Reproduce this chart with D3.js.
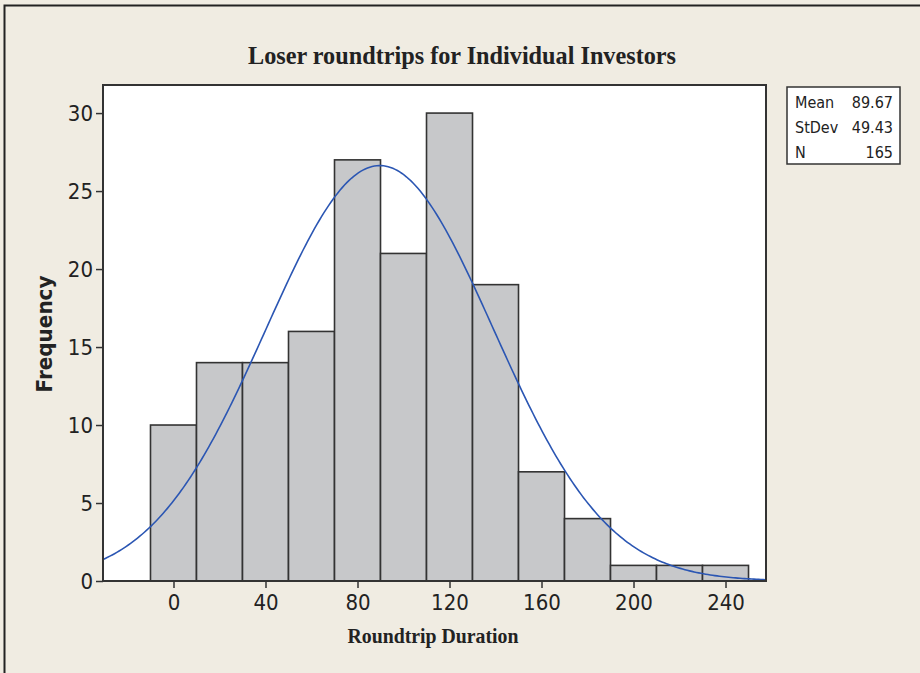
<!DOCTYPE html>
<html><head><meta charset="utf-8">
<script src="https://cdn.jsdelivr.net/npm/d3@7"></script>
<style>body{margin:0;background:#f0ece2;} svg{display:block;}</style>
</head><body>
<script>
const binCenters = [0,20,40,60,80,100,120,140,160,180,200,220,240];
const frequencies = [10,14,14,16,27,21,30,19,7,4,1,1,1];
const binWidth = 20;
const xTicks = [0,40,80,120,160,200,240];
const yTicks = [0,5,10,15,20,25,30];
const statLabels = ["Mean","StDev","N"];
const statValues = ["89.67","49.43","165"];
const mean = 89.67, sd = 49.43, n = 165;

const W = 920, H = 673;
const svg = d3.select("body").append("svg").attr("width", W).attr("height", H);
svg.append("rect").attr("width", W).attr("height", H).attr("fill", "#f0ece2");
svg.append("path").attr("d", "M4.5,673 L4.5,5.5 L920,5.5").attr("fill","none").attr("stroke","#222").attr("stroke-width",2);

const L = 103, R = 766, T = 85, B = 581;
const x = d3.scaleLinear().domain([-30.65, 257.6]).range([L, R]);
const y = d3.scaleLinear().domain([0, 31.8]).range([B, T]);

svg.append("rect").attr("x", L).attr("y", T).attr("width", R-L).attr("height", B-T).attr("fill", "#fff");

svg.append("g").selectAll("rect").data(binCenters).join("rect")
  .attr("x", (d) => x(d - binWidth/2))
  .attr("width", (d) => x(d + binWidth/2) - x(d - binWidth/2))
  .attr("y", (d,i) => y(frequencies[i]))
  .attr("height", (d,i) => y(0) - y(frequencies[i]))
  .attr("fill", "#c7c8ca").attr("stroke", "#333").attr("stroke-width", 1.6);

const curvePts = d3.range(x.domain()[0], x.domain()[1] + 0.01, 1).map(v => [v, n*binWidth/(sd*Math.sqrt(2*Math.PI))*Math.exp(-0.5*((v-mean)/sd)**2)]);
svg.append("path").datum(curvePts)
  .attr("d", d3.line().x(d => x(d[0])).y(d => y(d[1])))
  .attr("fill","none").attr("stroke","#2b56b3").attr("stroke-width",1.6);

svg.append("rect").attr("x", L).attr("y", T).attr("width", R-L).attr("height", B-T)
  .attr("fill", "none").attr("stroke", "#333").attr("stroke-width", 2);

const tickFont = "'DejaVu Sans Condensed','Liberation Sans Narrow',sans-serif";
const xa = svg.append("g").attr("transform", `translate(0,${B})`)
  .call(d3.axisBottom(x).tickValues(xTicks).tickSize(7).tickPadding(6).tickFormat(d3.format("d")));
xa.select(".domain").remove();
xa.selectAll("line").attr("stroke","#333").attr("stroke-width",1.5);
xa.selectAll("text").attr("font-family", tickFont).attr("font-size", 22).attr("fill","#222");

const ya = svg.append("g").attr("transform", `translate(${L},0)`)
  .call(d3.axisLeft(y).tickValues(yTicks).tickSize(7).tickPadding(3).tickFormat(d3.format("d")));
ya.select(".domain").remove();
ya.selectAll("line").attr("stroke","#333").attr("stroke-width",1.5);
ya.selectAll("text").attr("font-family", tickFont).attr("font-size", 22).attr("fill","#222");

svg.append("text").attr("x", 462).attr("y", 64).attr("text-anchor","middle")
  .attr("font-family","'Liberation Serif','Times New Roman',serif").attr("font-weight","bold")
  .attr("font-size", 26).attr("fill","#222")
  .attr("textLength", 428).attr("lengthAdjust","spacingAndGlyphs")
  .text("Loser roundtrips for Individual Investors");

svg.append("text").attr("x", 433).attr("y", 643).attr("text-anchor","middle")
  .attr("font-family","'Liberation Serif','Times New Roman',serif").attr("font-weight","bold")
  .attr("font-size", 21).attr("fill","#222")
  .attr("textLength", 171).attr("lengthAdjust","spacingAndGlyphs")
  .text("Roundtrip Duration");

svg.append("text").attr("transform","translate(52,334) rotate(-90)").attr("text-anchor","middle")
  .attr("font-family","'DejaVu Sans','Liberation Sans',sans-serif").attr("font-weight","bold")
  .attr("font-size", 21).attr("fill","#222")
  .attr("textLength", 117).attr("lengthAdjust","spacingAndGlyphs")
  .text("Frequency");

const bx = 787, by = 87, bw = 113, bh = 77;
svg.append("rect").attr("x", bx).attr("y", by).attr("width", bw).attr("height", bh)
  .attr("fill","#fff").attr("stroke","#333").attr("stroke-width",1.5);
const rowY = d3.scalePoint().domain(statLabels).range([by+21, by+71]);
const sg = svg.append("g").attr("font-family", tickFont).attr("font-size", 16).attr("fill","#222");
sg.selectAll("text.l").data(statLabels).join("text").attr("class","l")
  .attr("x", bx+8).attr("y", d => rowY(d)).text(d => d);
sg.selectAll("text.v").data(statValues).join("text").attr("class","v")
  .attr("x", bx+bw-7).attr("y", (d,i) => rowY(statLabels[i])).attr("text-anchor","end").text(d => d);
</script>
</body></html>
